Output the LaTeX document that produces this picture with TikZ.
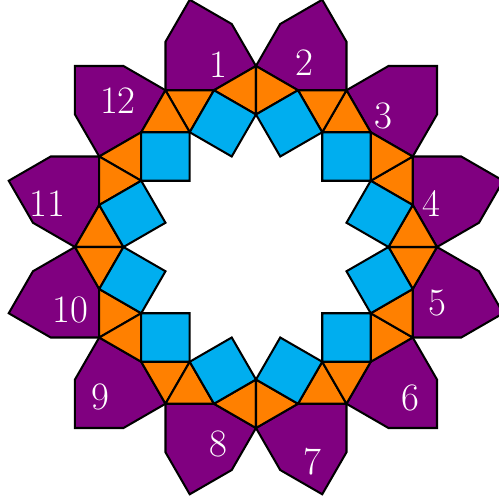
\documentclass[tikz,border=0pt]{standalone}
\usepackage{fontspec}
\usepackage{tikz}
\definecolor{TilePurple}{HTML}{800080}
\definecolor{TileOrange}{HTML}{FF8000}
\definecolor{TileCyan}{HTML}{00AEEF}
\tikzset{
  trinode/.style={draw=black,fill=TileOrange,line width=1.2pt},
  sqnode/.style={draw=black,fill=TileCyan,line width=1.2pt},
  hexnode/.style={draw=black,fill=TilePurple,line width=1.2pt},
  numlabel/.style={text=white,font=\fontsize{22.8}{27}\selectfont,inner sep=0pt},
}

\begin{document}
\begin{tikzpicture}
  \useasboundingbox (-5.278,-5.237) rectangle (5.010,5.093);
  % ring points, one set per 30 degree sector
  \foreach \i in {0,...,11}{
    \pgfmathsetmacro{\a}{90+30*\i}
    \coordinate (A\i) at (\a:3.7321);
    \coordinate (B\i) at (\a:2.7321);
    \coordinate (M\i) at (\a+15:3.3461);
    \coordinate (I\i) at (\a+15:1.9319);
    \coordinate (P\i) at (\a+6.206:4.6254);
    \coordinate (Q\i) at (\a+15:5.2780);
    \coordinate (R\i) at (\a+23.794:4.6254);
  }
  % tiles
  \foreach \i in {0,...,11}{
    \pgfmathtruncatemacro{\j}{mod(\i+1,12)}
    \draw[hexnode] (A\i) -- (M\i) -- (A\j) -- (R\i) -- (Q\i) -- (P\i) -- cycle;
    \draw[trinode] (A\i) -- (B\i) -- (M\i) -- cycle;
    \draw[trinode] (A\j) -- (B\j) -- (M\i) -- cycle;
    \draw[sqnode] (M\i) -- (B\i) -- (I\i) -- (B\j) -- cycle;
  }
  % numbers
  \foreach \n/\x/\y in {1/-0.784/3.763, 2/0.990/3.804, 3/2.619/2.701,
      4/3.623/0.901, 5/3.742/-1.144, 6/3.192/-3.120, 7/1.155/-4.427,
      8/-0.784/-4.062, 9/-3.216/-3.093, 10/-3.819/-1.305,
      11/-4.299/0.887, 12/-2.845/3.025}
    \node[numlabel] (lab\n) at (\x,\y) {\n};
\end{tikzpicture}
\end{document}
